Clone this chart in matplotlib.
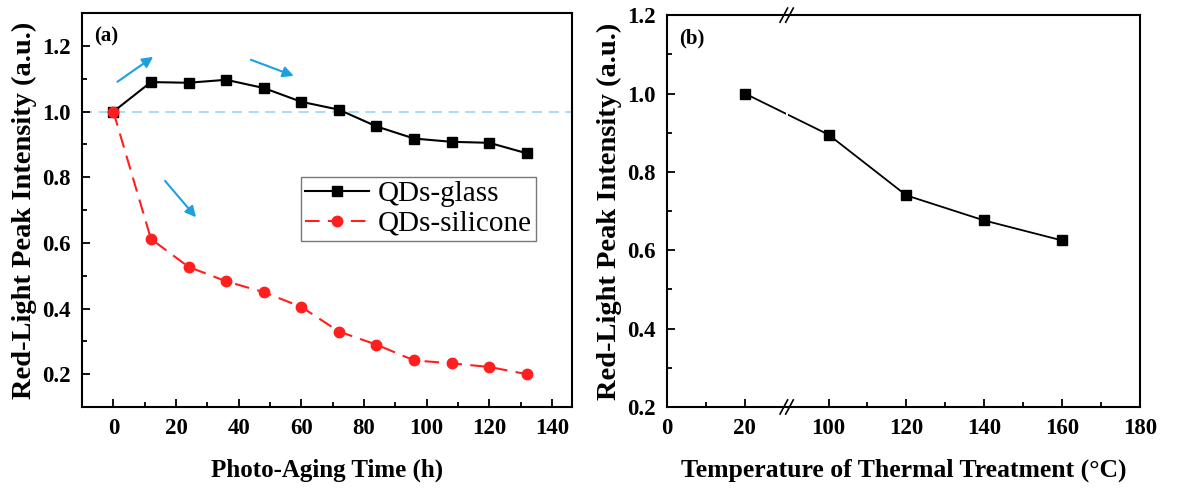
import numpy as np
import matplotlib
matplotlib.use("Agg")
import matplotlib.pyplot as plt
from matplotlib.ticker import MultipleLocator, FixedLocator

plt.rcParams['font.family'] = ['Liberation Serif', 'DejaVu Serif']
plt.rcParams['mathtext.fontset'] = 'stix'

# ---- data panel (a)
time_h = [0, 12, 24, 36, 48, 60, 72, 84, 96, 108, 120, 132]
qds_glass = [1.0, 1.090, 1.088, 1.097, 1.072, 1.030, 1.006, 0.955, 0.918, 0.908, 0.905, 0.873]
qds_silicone = [1.0, 0.612, 0.527, 0.483, 0.450, 0.405, 0.330, 0.290, 0.242, 0.233, 0.222, 0.200]

# ---- data panel (b)
temp_c = [20, 100, 120, 140, 160]
thermal_int = [1.0, 0.895, 0.740, 0.676, 0.625]
b_xticks = [0, 20, 100, 120, 140, 160, 180]
b_minor = [10, 110, 130, 150, 170]

fig = plt.figure(figsize=(11.84, 4.88), dpi=100)
ax1 = fig.add_axes([0.0693, 0.166, 0.414, 0.807])
ax2 = fig.add_axes([0.5633, 0.166, 0.3995, 0.803])

blue = '#1BA1E2'

# ---------------- panel (a)
ax1.axhline(1.0, color='#9FD3F2', lw=1.2, ls=(0, (6, 4)), zorder=1)
ax1.plot(time_h, qds_glass, color='black', marker='s', ms=7, lw=1.5, label='QDs-glass', zorder=2)
ax1.plot(time_h, qds_silicone, color='#FF1F1F', marker='o', ms=7.5, lw=1.5,
         ls=(0, (7, 4)), label='QDs-silicone', zorder=3)
ax1.set_xlim(-10, 146.5)
ax1.set_ylim(0.1, 1.3)
ax1.xaxis.set_major_locator(MultipleLocator(20))
ax1.xaxis.set_minor_locator(MultipleLocator(10))
ax1.yaxis.set_major_locator(MultipleLocator(0.2))
ax1.yaxis.set_minor_locator(MultipleLocator(0.1))
ax1.yaxis.set_major_formatter(matplotlib.ticker.FormatStrFormatter('%.1f'))
for s, e in [((1.3, 1.091), (12.7, 1.167)),
             ((43.9, 1.158), (57.6, 1.109)),
             ((16.5, 0.789), (26.4, 0.678))]:
    ax1.annotate('', xy=e, xytext=s,
                 arrowprops=dict(arrowstyle='-|>', color=blue, lw=1.5, mutation_scale=16,
                                 shrinkA=0, shrinkB=0))
ax1.text(0.025, 0.965, '(a)', transform=ax1.transAxes, fontsize=15, fontweight='bold', va='top')
ax1.set_xlabel('Photo-Aging Time (h)', fontsize=18, fontweight='bold', labelpad=14)
ax1.set_ylabel('Red-Light Peak Intensity (a.u.)', fontsize=20.5, fontweight='bold', labelpad=4)
leg = ax1.legend(loc='upper left', bbox_to_anchor=(0.446, 0.585), fontsize=21, frameon=True,
                 fancybox=False, edgecolor='#555555', handlelength=2.2, borderpad=0.15,
                 labelspacing=0.1, handletextpad=0.3, borderaxespad=0)
leg.get_frame().set_linewidth(1.0)

# ---------------- panel (b) with broken x axis
OFF = 58.5
def fwd(x):
    x = np.asarray(x, dtype=float)
    return np.where(x <= 30, x, np.where(x < 90, 30 + (x - 30) * (1.5 / 60), x - OFF))
def inv(u):
    u = np.asarray(u, dtype=float)
    return np.where(u <= 30, u, np.where(u < 31.5, 30 + (u - 30) * (60 / 1.5), u + OFF))

ax2.set_xscale('function', functions=(fwd, inv))
ax2.plot(temp_c, thermal_int, color='black', marker='s', ms=7, lw=1.3, zorder=3)
ax2.set_xlim(0, 180)
ax2.set_ylim(0.2, 1.2)
ax2.xaxis.set_major_locator(FixedLocator(b_xticks))
ax2.xaxis.set_minor_locator(FixedLocator(b_minor))
ax2.xaxis.set_major_formatter(matplotlib.ticker.FuncFormatter(lambda v, p: f'{v:.0f}'))
ax2.xaxis.set_minor_formatter(matplotlib.ticker.NullFormatter())
ax2.yaxis.set_major_locator(MultipleLocator(0.2))
ax2.yaxis.set_minor_locator(MultipleLocator(0.1))
ax2.yaxis.set_major_formatter(matplotlib.ticker.FormatStrFormatter('%.1f'))
ax2.text(0.025, 0.965, '(b)', transform=ax2.transAxes, fontsize=15, fontweight='bold', va='top')
ax2.set_xlabel('Temperature of Thermal Treatment (\u00b0C)', fontsize=18.5, fontweight='bold', labelpad=14)
ax2.set_ylabel('Red-Light Peak Intensity (a.u.)', fontsize=20.5, fontweight='bold', labelpad=4)

# gap in line + break marks
bx = 60
ax2.axvspan(52, 72, ymin=0.72, ymax=0.82, color='white', zorder=4, lw=0)
for yy in (0.0, 1.0):
    for dx in (-0.006, 0.006):
        xa = ax2.transAxes.inverted().transform(ax2.transData.transform((bx, 0.5)))[0] + dx
        ax2.plot([xa - 0.008, xa + 0.008], [yy - 0.018, yy + 0.018], transform=ax2.transAxes,
                 color='black', lw=1.2, clip_on=False, zorder=5)

for ax in (ax1, ax2):
    for sp in ax.spines.values():
        sp.set_linewidth(1.5)
    ax.tick_params(which='both', direction='in', top=False, right=False, width=1.3)
    ax.tick_params(which='major', length=6, pad=8)
    ax.tick_params(which='minor', length=3.5)
    for lab in ax.get_xticklabels() + ax.get_yticklabels():
        lab.set_fontsize(16.5)
        lab.set_fontweight('bold')

fig.savefig('out.png', dpi=100)
